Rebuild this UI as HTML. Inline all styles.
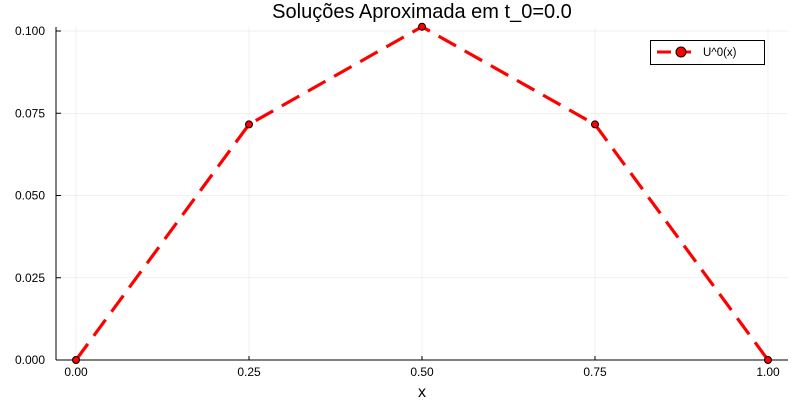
<!DOCTYPE html>
<html><head><meta charset="utf-8"><style>
body{margin:0;background:#fff;}
text{font-family:"Liberation Sans",sans-serif;}
</style></head><body>
<svg id="chart" width="800" height="400" xmlns="http://www.w3.org/2000/svg">
<rect width="800" height="400" fill="#fff"/>
<text x="422" y="18" font-size="20" text-anchor="middle" fill="#000">Soluções Aproximada em t_0=0.0</text>
<g id="grid"></g>
<g id="axes"></g>
<g id="series"></g>
<g>
<rect x="650.5" y="40.5" width="114" height="24" fill="#fff" stroke="#000" stroke-width="1"/>
<line x1="657" y1="52" x2="697" y2="52" stroke="#ff0000" stroke-width="3" stroke-dasharray="14,6"/>
<circle cx="681" cy="52" r="5" fill="#ff0000" stroke="#000" stroke-width="1"/>
<text x="703" y="56" font-size="11.5" fill="#000">U^0(x)</text>
</g>
<text x="422" y="397" font-size="16" text-anchor="middle" fill="#000">x</text>
</svg>
<script>
const xValues=[0,0.25,0.5,0.75,1.0];
const yValues=[0,0.0716,0.1013,0.0716,0];
const xTicks=[0,0.25,0.5,0.75,1.0];
const xTickLabels=["0.00","0.25","0.50","0.75","1.00"];
const yTicks=[0,0.025,0.05,0.075,0.1];
const yTickLabels=["0.000","0.025","0.050","0.075","0.100"];
const NS="http://www.w3.org/2000/svg";
const L=56,R=788,T=27,B=360;
const sx=v=>76+v*(768-76);
const sy=v=>360-v*(329/0.1);
function mk(tag,attrs,parent){const e=document.createElementNS(NS,tag);for(const k in attrs)e.setAttribute(k,attrs[k]);parent.appendChild(e);return e;}
const grid=document.getElementById('grid'),axes=document.getElementById('axes'),series=document.getElementById('series');
xTicks.forEach((t,i)=>{
 const g=mk('line',{x1:sx(t),x2:sx(t),y1:T,y2:B,stroke:'#000','stroke-opacity':0.1,'stroke-width':0.5},grid);
 
 
 const tk=mk('line',{x1:sx(t),x2:sx(t),y1:B,y2:B-4,stroke:'#000'},axes);
 
 
 const tx=mk('text',{x:sx(t),y:B+16,'font-size':12,'text-anchor':'middle',fill:'#000'},axes);
 tx.textContent=xTickLabels[i];
 
 
});
yTicks.forEach((t,i)=>{
 const g=mk('line',{x1:L,x2:R,y1:sy(t),y2:sy(t),stroke:'#000','stroke-opacity':0.1,'stroke-width':0.5},grid);
 
 
 const tk=mk('line',{x1:L,x2:L+5,y1:sy(t),y2:sy(t),stroke:'#000'},axes);
 
 
 const tx=mk('text',{x:L-11,y:sy(t)+4,'font-size':12,'text-anchor':'end',fill:'#000'},axes);
 tx.textContent=yTickLabels[i];
 
 
});
const xa=mk('line',{x1:L,x2:R,y1:B,y2:B,stroke:'#000','stroke-width':1},axes);


const ya=mk('line',{x1:L,x2:L,y1:T,y2:B,stroke:'#000','stroke-width':1},axes);


const pts=xValues.map((x,i)=>sx(x)+','+sy(yValues[i])).join(' ');
const pl=mk('polyline',{points:pts,fill:'none',stroke:'#ff0000','stroke-width':3.2,'stroke-dasharray':'20,10'},series);


xValues.forEach((x,i)=>{
 const c=mk('circle',{cx:sx(x),cy:sy(yValues[i]),r:3.5,fill:'#ff0000',stroke:'#000','stroke-width':1},series);
 
 
});
</script>
</body></html>
